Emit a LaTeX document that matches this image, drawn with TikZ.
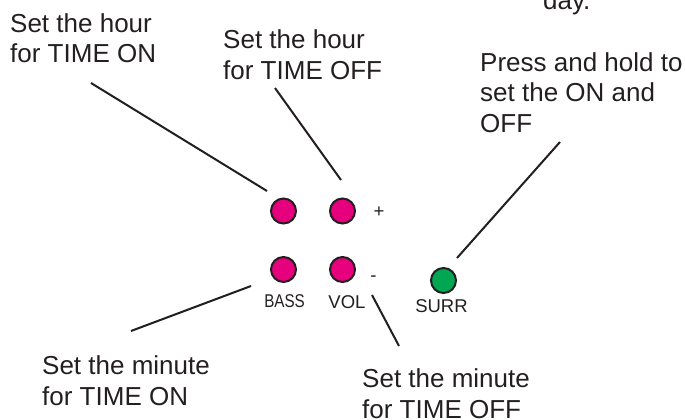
\documentclass[tikz,border=0pt]{standalone}
\usepackage{fontspec}
\setmainfont{Liberation Sans}
\usepackage{xcolor}
\usepackage{tikz}
\usetikzlibrary{positioning,calc}
\definecolor{btnpink}{RGB}{230,0,126}
\definecolor{btngreen}{RGB}{0,166,81}
\definecolor{ink}{RGB}{35,31,32}

\begin{document}
\begin{tikzpicture}[x=1pt,y=-1pt,
    every node/.style={text=ink,inner sep=0pt},
    lbl/.style={font=\fontsize{26}{30.5}\selectfont,align=left,anchor=base west},
    tag/.style={font=\fontsize{18.5}{22}\selectfont,anchor=base},
    btn/.style={circle,draw=ink,line width=2pt,minimum size=25pt},
    lead/.style={draw=ink,line width=2pt}]
        \useasboundingbox (0,0) rectangle (685,420);
        % buttons
        \node[btn,fill=btnpink] (hrOn) at (283.5,211) {};
        \node[btn,fill=btnpink] (hrOff) at (342.5,211) {};
        \node[btn,fill=btnpink] (minOn) at (283.5,269.5) {};
        \node[btn,fill=btnpink] (minOff) at (342.5,269.5) {};
        \node[btn,fill=btngreen] (surr) at (443.5,280.5) {};
        \node[tag] (plus) at (379,217) {+};
        \node[tag] (minus) at (373.5,281) {-};
        \node[tag] (bass) at (284.5,307) {\scalebox{0.82}[1]{BASS}};
        \node[tag] (vol) at (347,308) {VOL};
        \node[tag] (surrtxt) at (441.5,312) {SURR};
        % labels (anchored at the baseline of the last line)
        \node[lbl] (txtHrOn) at (10,63) {Set the hour\\for TIME ON};
        \node[lbl] (txtHrOff) at (223,79) {Set the hour\\for TIME OFF};
        \node[lbl] (txtDay) at (543,10) {day.};
        \node[lbl] (txtPress) at (480,132) {Press and hold to\\set the ON and\\OFF};
        \node[lbl] (txtMinOn) at (42,405) {Set the minute\\for TIME ON};
        \node[lbl] (txtMinOff) at (362,418) {Set the minute\\for TIME OFF};
        % leader lines
        \coordinate (hrOnA) at (91,83);   \coordinate (hrOnB) at (267,191);
        \coordinate (hrOffA) at (275,88); \coordinate (hrOffB) at (341,180);
        \coordinate (surrA) at (560,142); \coordinate (surrB) at (457,258);
        \coordinate (minOnA) at (131,331); \coordinate (minOnB) at (251,286);
        \coordinate (minOffA) at (399,346); \coordinate (minOffB) at (372,295);
        \draw[lead] (hrOnA) -- (hrOnB);
        \draw[lead] (hrOffA) -- (hrOffB);
        \draw[lead] (surrA) -- (surrB);
        \draw[lead] (minOnA) -- (minOnB);
        \draw[lead] (minOffA) -- (minOffB);
    \end{tikzpicture}
\end{document}
